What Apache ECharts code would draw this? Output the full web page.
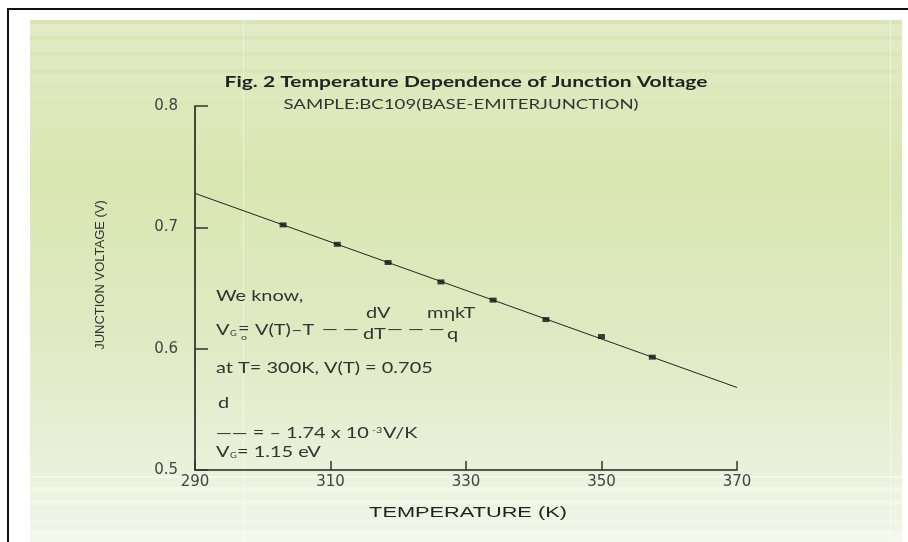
<!DOCTYPE html>
<html><head><meta charset="utf-8">
<script src="https://cdn.jsdelivr.net/npm/echarts@6/dist/echarts.min.js"></script>
<style>html,body{margin:0;padding:0;background:#fff}#c{width:908px;height:542px}</style>
</head><body><div id="c"></div>
<script>
// ---- data ----
const measuredTemps = [303, 311, 318.5, 326.3, 334, 341.8, 350, 357.5];
const measuredVolts = [0.702, 0.686, 0.671, 0.655, 0.640, 0.624, 0.610, 0.593];
const fitTemps = [290, 370];
const fitVolts = [0.728, 0.568];
const xTickLabels = ['290', '310', '330', '350', '370'];
const yTickLabels = ['0.5', '0.6', '0.7', '0.8'];
const titleText = 'Fig. 2 Temperature Dependence of Junction Voltage';
const subtitleText = 'SAMPLE:BC109(BASE-EMITERJUNCTION)';
const xName = 'TEMPERATURE (K)';
const yName = 'JUNCTION VOLTAGE (V)';

const chart = echarts.init(document.getElementById('c'), null, {renderer: 'canvas'});

const TXT = '#333';
const FONT = 'Lato';
function txt(x, y, s, o) {
  o = o || {};
  return {
    type: 'text', x: x, y: y, z: 5, silent: true,
    scaleX: o.sx || 1.33, scaleY: 1, rotation: o.rot || 0,
    style: {
      text: s, x: 0, y: 0,
      font: (o.bold ? 'bold ' : '') + (o.size || 15) + 'px ' + (o.family || FONT),
      fill: o.color || TXT,
      textAlign: o.align || 'left',
      textVerticalAlign: 'middle'
    }
  };
}

const bg = [];
bg.push({type: 'rect', z: -10, silent: true, shape: {x: 8, y: 9, width: 920, height: 560},
  style: {fill: '#fff', stroke: '#111', lineWidth: 2}});
bg.push({type: 'rect', z: -9, silent: true, shape: {x: 30, y: 20, width: 872, height: 522},
  style: {fill: new echarts.graphic.LinearGradient(0, 0, 0, 1, [
    {offset: 0, color: '#e2ebc6'},
    {offset: 0.3, color: '#d9e7b2'},
    {offset: 0.6, color: '#dfeac2'},
    {offset: 0.85, color: '#e9f1da'},
    {offset: 1, color: '#f1f5e8'}
  ])}});
// top stripes
[20, 36, 52, 69, 85, 101].forEach(function (yy, i) {
  bg.push({type: 'rect', z: -8, silent: true, shape: {x: 30, y: yy, width: 872, height: 4},
    style: {fill: 'rgba(205,221,160,' + (0.4 - i * 0.05) + ')'}});
});
// bottom light bands
[[476, 1.5, 0.8], [487, 6, 0.4], [500, 5, 0.4], [520, 4, 0.4], [530, 12, 0.4]].forEach(function (b) {
  bg.push({type: 'rect', z: -8, silent: true, shape: {x: 30, y: b[0], width: 872, height: b[1]},
    style: {fill: 'rgba(250,252,246,' + b[2] + ')'}});
});
// faint vertical seams
[243, 890].forEach(function (xx) {
  bg.push({type: 'rect', z: -8, silent: true, shape: {x: xx, y: 20, width: 1, height: 522},
    style: {fill: 'rgba(255,255,255,0.45)'}});
});

const texts = [
  txt(466, 82, titleText, {bold: true, size: 15, color: '#222', align: 'center', sx: 1.4}),
  txt(461, 104, subtitleText, {size: 14, align: 'center', sx: 1.33}),
  txt(468, 513, xName, {size: 15, family: 'Liberation Sans', align: 'center', sx: 1.45, color: '#222'}),
  txt(100, 275, yName, {size: 13, family: 'Liberation Sans', align: 'center', sx: 1.0, rot: Math.PI / 2, color: '#333'}),
  txt(216, 296, 'We know,', {}),
  txt(366, 313, 'dV', {}),
  txt(427, 313, 'm\u03b7kT', {}),
  txt(216, 330, 'V', {}),
  txt(230, 334, 'G', {size: 7}),
  txt(238, 329, '=', {}),
  txt(241, 337, 'o', {size: 8}),
  txt(255, 330, 'V(T)\u2013T', {}),
  txt(322, 329, '\u2014 \u2014', {}),
  txt(363, 334, 'dT', {}),
  txt(387, 329, '\u2014 \u2014 \u2014', {}),
  txt(447, 334, 'q', {}),
  txt(216, 368, 'at T= 300K, V(T) = 0.705', {}),
  txt(218, 403, 'd', {}),
  txt(216, 433, '\u2014\u2014 = \u2013 1.74 x 10', {}),
  txt(372, 430, '-3', {size: 8}),
  txt(383, 433, 'V/K', {}),
  txt(216, 452, 'V', {}),
  txt(230, 456, 'G', {size: 7}),
  txt(237, 452, '= 1.15 eV', {})
];

const option = {
  animation: false,
  backgroundColor: 'transparent',
  grid: {left: 195, right: 171, top: 106, bottom: 72, containLabel: false},
  xAxis: {
    type: 'value', min: 290, max: 370, interval: 20,
    axisLine: {show: true, lineStyle: {color: '#222', width: 1.5}},
    axisTick: {show: true, inside: true, length: 9, lineStyle: {color: '#333', width: 1.5}},
    axisLabel: {color: '#444', fontFamily: 'DejaVu Sans', fontSize: 15, margin: 5,
      formatter: function (v) { return xTickLabels[Math.round((v - 290) / 20)]; }},
    splitLine: {show: false}
  },
  yAxis: {
    type: 'value', min: 0.5, max: 0.8, interval: 0.1,
    axisLine: {show: true, lineStyle: {color: '#111', width: 1.5}},
    axisTick: {show: true, inside: true, length: 13, lineStyle: {color: '#333', width: 1.5}},
    axisLabel: {color: '#444', fontFamily: 'DejaVu Sans', fontSize: 15, margin: 17,
      formatter: function (v) { return yTickLabels[Math.round((v - 0.5) / 0.1)]; }},
    splitLine: {show: false}
  },
  graphic: {elements: bg.concat(texts)},
  series: [
    {
      type: 'line', name: 'fit', silent: true,
      data: fitTemps.map(function (t, i) { return [t, fitVolts[i]]; }),
      symbol: 'none', lineStyle: {color: '#222', width: 1}, z: 3
    },
    {
      type: 'scatter', name: 'measured', silent: true,
      data: measuredTemps.map(function (t, i) { return [t, measuredVolts[i]]; }),
      symbol: 'rect', symbolSize: [7, 5], itemStyle: {color: '#111'}, z: 4
    }
  ]
};
chart.setOption(option);
</script>
</body></html>
